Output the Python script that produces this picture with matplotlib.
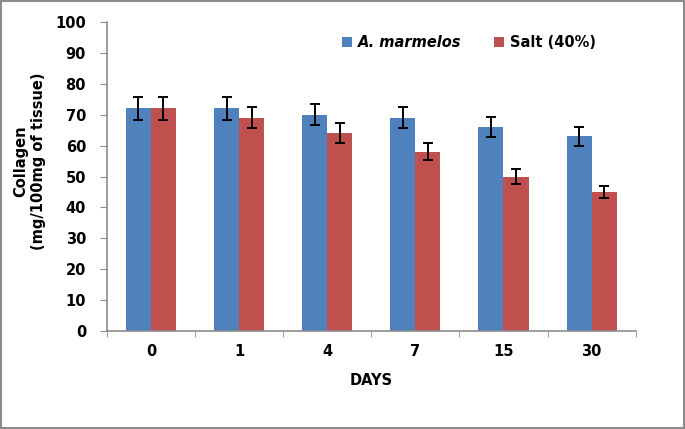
import numpy as np
import matplotlib.pyplot as plt
from matplotlib.patches import Rectangle

days = ['0', '1', '4', '7', '15', '30']
marmelos = [72, 72, 70, 69, 66, 63]
marmelos_err = [3.6, 3.6, 3.5, 3.4, 3.3, 3.1]
salt = [72, 69, 64, 58, 50, 45]
salt_err = [3.6, 3.4, 3.2, 2.7, 2.4, 2.1]

plt.rcParams['font.family'] = ['DejaVu Sans']
plt.rcParams['font.weight'] = 'bold'
fs = 10.5

fig = plt.figure(figsize=(6.85, 4.29), dpi=100)
fig.patches.append(Rectangle((0.002, 0.003), 0.996, 0.994, transform=fig.transFigure,
                             fill=False, edgecolor='#8c8c8c', linewidth=1.5))
ax = fig.add_axes([0.156, 0.228, 0.772, 0.721])

x = np.arange(len(days))
w = 0.284
ekw = dict(ecolor='black', elinewidth=1.4, capsize=3.5, capthick=1.4)
ax.bar(x - w/2, marmelos, w, yerr=marmelos_err, color='#4f81bd', error_kw=ekw,
       label='A. marmelos')
ax.bar(x + w/2, salt, w, yerr=salt_err, color='#c0504d', error_kw=ekw,
       label='Salt (40%)')

ax.set_xlim(-0.5, len(days) - 0.5)
ax.set_ylim(0, 100)
ax.set_yticks(range(0, 101, 10))
ax.set_xticks(x)
ax.set_xticklabels(days)
ax.set_xticks(np.arange(-0.5, len(days)), minor=True)
ax.tick_params(axis='x', which='major', length=0, pad=9, labelsize=fs)
ax.tick_params(axis='x', which='minor', length=4, color='#8c8c8c', direction='out')
ax.tick_params(axis='y', length=5, color='#8c8c8c', direction='out', pad=10, labelsize=fs)
for s in ['top', 'right']:
    ax.spines[s].set_visible(False)
for s in ['left', 'bottom']:
    ax.spines[s].set_color('#8c8c8c')
    ax.spines[s].set_linewidth(1.2)

ax.set_xlabel('DAYS', fontsize=fs, fontweight='bold', labelpad=10)
ax.set_ylabel('Collagen\n(mg/100mg of tissue)', fontsize=fs, fontweight='bold')
ax.yaxis.set_label_coords(-0.115, 0.55)

leg = ax.legend(loc='upper left', bbox_to_anchor=(0.42, 1.0), ncol=2, frameon=False,
                fontsize=fs, handlelength=0.7, handleheight=0.7, columnspacing=2.2,
                handletextpad=0.4)
leg.get_texts()[0].set_fontstyle('italic')

fig.savefig('out.png', dpi=100)
